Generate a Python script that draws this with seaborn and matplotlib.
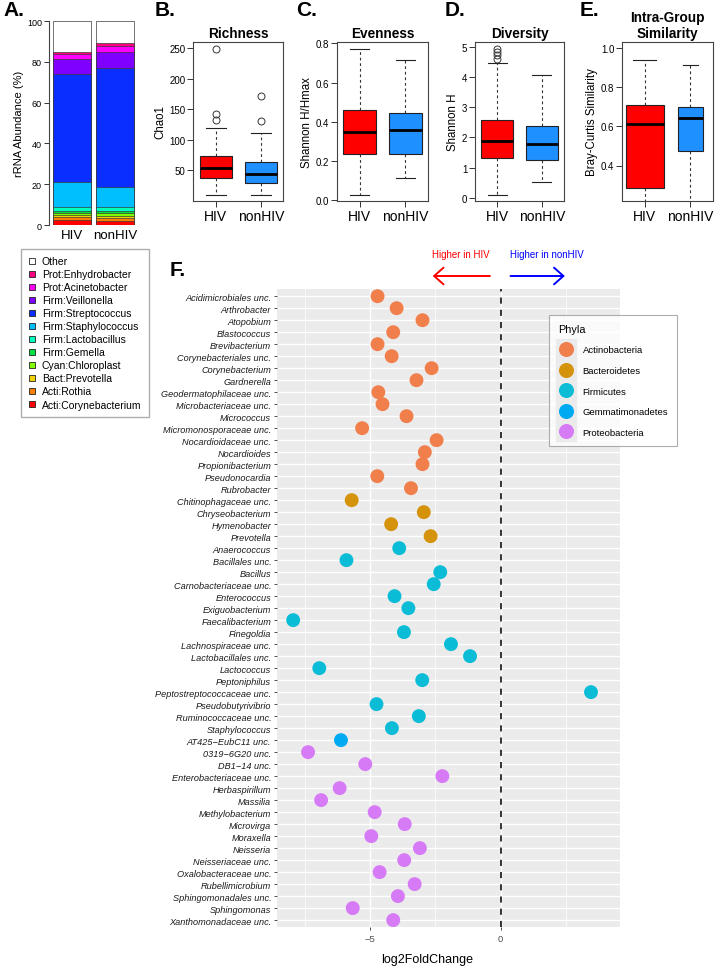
import matplotlib
matplotlib.use("Agg")
import matplotlib.pyplot as plt
from matplotlib.lines import Line2D
import numpy as np
import pandas as pd
import seaborn as sns


GROUPS = ["HIV", "nonHIV"]
HIV_COLOR = "#FF0000"
NONHIV_COLOR = "#1E90FF"

# panel A: mean relative abundance (%), bottom -> top
TAXA = ["Acti:Corynebacterium", "Acti:Rothia", "Bact:Prevotella", "Cyan:Chloroplast",
        "Firm:Gemella", "Firm:Lactobacillus", "Firm:Staphylococcus", "Firm:Streptococcus",
        "Firm:Veillonella", "Prot:Acinetobacter", "Prot:Enhydrobacter", "Other"]
TAXA_COLORS = ["#FF0000", "#FF8000", "#F2D200", "#80FF00", "#00E040", "#00FFBF",
               "#00BFFF", "#0A2EFF", "#7F00FF", "#FF00FF", "#FF0080", "#FFFFFF"]
ABUND_HIV = [2.6, 1.2, 1.1, 1.1, 1.0, 1.7, 12.5, 53.0, 7.0, 2.5, 1.3, 15.0]
ABUND_NONHIV = [2.2, 1.3, 1.0, 1.2, 1.2, 1.8, 9.8, 58.3, 8.2, 2.6, 1.4, 11.0]

# panels B-E: whislo, q1, median, q3, whishi
RICH_HIV = [10.2, 38.0, 54.4, 73.4, 118.7]
RICH_NONHIV = [10.2, 28.7, 43.5, 64.2, 111.7]
RICH_OUT_HIV = [249, 143, 132]
RICH_OUT_NONHIV = [171.6, 130.7]

EVEN_HIV = [0.026, 0.234, 0.345, 0.46, 0.773]
EVEN_NONHIV = [0.112, 0.236, 0.358, 0.442, 0.718]

DIV_HIV = [0.08, 1.32, 1.87, 2.57, 4.47]
DIV_NONHIV = [0.52, 1.24, 1.77, 2.39, 4.06]
DIV_OUT_HIV = [4.95, 4.84, 4.73, 4.62]

SIM_HIV = [0.10, 0.284, 0.612, 0.71, 0.937]
SIM_NONHIV = [0.18, 0.474, 0.642, 0.697, 0.916]

# panel F: differential abundance
GENERA = ["Acidimicrobiales unc.", "Arthrobacter", "Atopobium", "Blastococcus", "Brevibacterium",
          "Corynebacteriales unc.", "Corynebacterium", "Gardnerella", "Geodermatophilaceae unc.",
          "Microbacteriaceae unc.", "Micrococcus", "Micromonosporaceae unc.", "Nocardioidaceae unc.",
          "Nocardioides", "Propionibacterium", "Pseudonocardia", "Rubrobacter",
          "Chitinophagaceae unc.", "Chryseobacterium", "Hymenobacter", "Prevotella",
          "Anaerococcus", "Bacillales unc.", "Bacillus", "Carnobacteriaceae unc.", "Enterococcus",
          "Exiguobacterium", "Faecalibacterium", "Finegoldia", "Lachnospiraceae unc.",
          "Lactobacillales unc.", "Lactococcus", "Peptoniphilus", "Peptostreptococcaceae unc.",
          "Pseudobutyrivibrio", "Ruminococcaceae unc.", "Staphylococcus",
          "AT425\u2212EubC11 unc.",
          "0319\u22126G20 unc.", "DB1\u221214 unc.", "Enterobacteriaceae unc.", "Herbaspirillum",
          "Massilia", "Methylobacterium", "Microvirga", "Moraxella", "Neisseria",
          "Neisseriaceae unc.", "Oxalobacteraceae unc.", "Rubellimicrobium",
          "Sphingomonadales unc.", "Sphingomonas", "Xanthomonadaceae unc."]
PHYLA = (["Actinobacteria"] * 17 + ["Bacteroidetes"] * 4 + ["Firmicutes"] * 16
         + ["Gemmatimonadetes"] + ["Proteobacteria"] * 15)
LFC = [-4.71, -3.98, -2.99, -4.11, -4.71, -4.17, -2.64, -3.22, -4.68, -4.52, -3.60, -5.30,
       -2.45, -2.90, -2.99, -4.72, -3.43,
       -5.70, -2.94, -4.19, -2.68,
       -3.88, -5.90, -2.31, -2.56, -4.06, -3.53, -7.94, -3.70, -1.90, -1.17, -6.94, -3.00,
       3.46, -4.75, -3.13, -4.16,
       -6.11,
       -7.37, -5.18, -2.23, -6.16, -6.87, -4.82, -3.67, -4.95, -3.09, -3.69, -4.63, -3.29,
       -3.93, -5.66, -4.11]
PHYLA_NAMES = ["Actinobacteria", "Bacteroidetes", "Firmicutes", "Gemmatimonadetes", "Proteobacteria"]
PHYLA_COLORS = ["#F07F4B", "#D5920B", "#0BBCD6", "#00AAF2", "#D67AF6"]

W, H = 720, 970


def add_axes(fig, x0, y0, x1, y1):
    return fig.add_axes([x0 / W, 1 - y1 / H, (x1 - x0) / W, (y1 - y0) / H])


def box_panel(ax, s_hiv, s_non, out_hiv, out_non, ylim, yticks, ylabel, title, widths=(0.72, 0.72)):
    stats = []
    for s, o, lab in [(s_hiv, out_hiv, "HIV"), (s_non, out_non, "nonHIV")]:
        stats.append(dict(whislo=s[0], q1=s[1], med=s[2], q3=s[3], whishi=s[4], fliers=o, label=lab))
    bp = ax.bxp(stats, positions=[1, 2], widths=list(widths), patch_artist=True,
                capwidths=[w * 0.6 for w in widths],
                boxprops=dict(edgecolor="#222222", linewidth=0.8),
                whiskerprops=dict(linestyle=(0, (2.5, 2.5)), linewidth=0.8, color="#333333"),
                capprops=dict(linewidth=0.8, color="#222222"),
                medianprops=dict(color="black", linewidth=2.0),
                flierprops=dict(marker="o", markerfacecolor="none", markeredgecolor="#333333",
                                markersize=5, markeredgewidth=0.7))
    for patch, c in zip(bp["boxes"], [HIV_COLOR, NONHIV_COLOR]):
        patch.set_facecolor(c)
    ax.set_xlim(0.5, 2.5)
    ax.set_ylim(*ylim)
    ax.set_yticks(yticks)
    ax.tick_params(axis="y", labelsize=7, length=4, width=0.7, pad=1.5, colors="#333333")
    ax.tick_params(axis="x", labelsize=10, length=4, width=0.7, pad=2, colors="#333333")
    for lbl in ax.get_xticklabels() + ax.get_yticklabels():
        lbl.set_color("black")
    ax.set_ylabel(ylabel, fontsize=8.3, labelpad=2)
    ax.set_title(title, fontsize=9.8, fontweight="bold", pad=4)
    for sp in ax.spines.values():
        sp.set_color("#444444")
        sp.set_linewidth(0.8)


def main():
    plt.rcParams["font.family"] = ["Liberation Sans", "DejaVu Sans"]
    plt.rcParams["axes.unicode_minus"] = True
    fig = plt.figure(figsize=(7.2, 9.7), dpi=100)

    # ---- A: stacked bars
    axa = add_axes(fig, 49, 22, 137, 226)
    cum_hiv = np.cumsum(ABUND_HIV)
    cum_non = np.cumsum(ABUND_NONHIV)
    for i in reversed(range(len(TAXA))):
        sns.barplot(x=GROUPS, y=[cum_hiv[i], cum_non[i]], color=TAXA_COLORS[i], saturation=1,
                    width=0.868, edgecolor="#3A3A3A", linewidth=0.5, ax=axa)
    axa.set_xlim(-0.533, 1.515)
    axa.set_ylim(0, 100)
    axa.set_yticks([0, 20, 40, 60, 80, 100])
    for sp in ["top", "right", "bottom"]:
        axa.spines[sp].set_visible(False)
    axa.spines["left"].set_color("#444444")
    axa.spines["left"].set_linewidth(0.8)
    axa.tick_params(axis="y", labelsize=6.5, length=3.5, width=0.7, pad=1.5, colors="#333333")
    axa.tick_params(axis="x", labelsize=9.5, length=0, pad=3)
    for lbl in axa.get_yticklabels():
        lbl.set_color("black")
    axa.set_ylabel("rRNA Abundance (%)", fontsize=8, labelpad=2)
    axa.set_xlabel("")

    handles = [Line2D([], [], marker="s", ls="", markersize=4.2, markerfacecolor=c,
                      markeredgecolor="#222222", markeredgewidth=0.6)
               for c in TAXA_COLORS[::-1]]
    fig.legend(handles, TAXA[::-1], loc="upper left", bbox_to_anchor=(21 / W, 1 - 250 / H),
               frameon=True, fancybox=False, edgecolor="#999999", fontsize=7.5,
               labelspacing=0.29, handlelength=0.8, handletextpad=0.5, borderpad=0.7,
               borderaxespad=0)

    # ---- B-E: boxplots
    axb = add_axes(fig, 193.3, 43.3, 283.3, 201.7)
    box_panel(axb, RICH_HIV, RICH_NONHIV, RICH_OUT_HIV, RICH_OUT_NONHIV, (0.4, 259.6),
              [50, 100, 150, 200, 250], "Chao1", "Richness")
    axc = add_axes(fig, 336.7, 43.3, 428.3, 201.7)
    box_panel(axc, EVEN_HIV, EVEN_NONHIV, [], [], (-0.004, 0.806),
              [0.0, 0.2, 0.4, 0.6, 0.8], "Shannon H/Hmax", "Evenness")
    axc.set_yticklabels(["0.0", "0.2", "0.4", "0.6", "0.8"])
    axd = add_axes(fig, 475, 43.3, 564, 201.7)
    box_panel(axd, DIV_HIV, DIV_NONHIV, DIV_OUT_HIV, [], (-0.1, 5.16),
              [0, 1, 2, 3, 4, 5], "Shannon H", "Diversity")
    axe = add_axes(fig, 622, 43.3, 713, 201.7)
    box_panel(axe, SIM_HIV, SIM_NONHIV, [], [], (0.22, 1.03),
              [0.4, 0.6, 0.8, 1.0], "Bray-Curtis Similarity", "Intra-Group\nSimilarity",
              widths=(0.84, 0.56))
    axe.set_yticklabels(["0.4", "0.6", "0.8", "1.0"])

    for txt, x in [("A.", 3), ("B.", 155), ("C.", 296), ("D.", 445), ("E.", 580), ("F.", 170)]:
        y = 261 if txt == "F." else 1
        fig.text(x / W, 1 - y / H, txt, fontsize=15, fontweight="bold", va="top", ha="left")

    # ---- F: log2 fold change dot plot
    axf = add_axes(fig, 276.7, 290, 620, 928.3)
    axf.set_facecolor("#EBEBEB")
    df = pd.DataFrame({"genus": GENERA, "phylum": PHYLA, "lfc": LFC})
    sns.scatterplot(data=df, x="lfc", y="genus", hue="phylum", hue_order=PHYLA_NAMES,
                    palette=PHYLA_COLORS, s=100, linewidth=0, alpha=1, ax=axf, legend=False,
                    zorder=3)
    axf.set_xlim(-8.57, 4.57)
    axf.set_ylim(len(GENERA) - 0.4, -0.6)
    axf.set_xticks([-5, 0])
    axf.set_xticks([-7.5, -2.5, 2.5], minor=True)
    axf.set_axisbelow(True)
    axf.grid(which="major", color="white", linewidth=1.0)
    axf.grid(which="minor", axis="x", color="white", linewidth=0.5)
    axf.axvline(0, color="black", linestyle=(0, (4, 4)), linewidth=1.1, zorder=2)
    for sp in axf.spines.values():
        sp.set_visible(False)
    axf.tick_params(axis="y", labelsize=6.6, length=2.5, width=0.6, color="#333333",
                    pad=1.5, labelcolor="#1A1A1A")
    axf.tick_params(axis="x", which="major", labelsize=6.8, length=2.5, width=0.6,
                    color="#333333", pad=2, labelcolor="#4D4D4D")
    axf.tick_params(axis="x", which="minor", length=0)
    for lbl in axf.get_yticklabels():
        lbl.set_fontstyle("italic")
    axf.set_ylabel("")
    axf.set_xlabel("log2FoldChange", fontsize=9)
    axf.xaxis.set_label_coords(0.438, -0.04)

    arrow_y = 1 - 277 / H
    axf.annotate("", xy=(-2.6, arrow_y), xytext=(-0.41, arrow_y),
                 xycoords=("data", "figure fraction"), textcoords=("data", "figure fraction"),
                 arrowprops=dict(arrowstyle="->,head_length=0.45,head_width=0.4", color="red",
                                 lw=1.4, mutation_scale=15, shrinkA=0, shrinkB=0),
                 annotation_clip=False)
    axf.annotate("", xy=(2.46, arrow_y), xytext=(0.38, arrow_y),
                 xycoords=("data", "figure fraction"), textcoords=("data", "figure fraction"),
                 arrowprops=dict(arrowstyle="->,head_length=0.45,head_width=0.4", color="blue",
                                 lw=1.4, mutation_scale=15, shrinkA=0, shrinkB=0),
                 annotation_clip=False)
    text_y = 1 - 255 / H
    axf.annotate("Higher in HIV", xy=(-1.52, text_y), xycoords=("data", "figure fraction"),
                 ha="center", va="center", color="red", fontsize=7, annotation_clip=False)
    axf.annotate("Higher in nonHIV", xy=(1.76, text_y), xycoords=("data", "figure fraction"),
                 ha="center", va="center", color="blue", fontsize=7, annotation_clip=False)

    phy_handles = [(Line2D([], [], marker="s", ls="", markersize=14.2, color="#EBEBEB"),
                    Line2D([], [], marker="o", ls="", markersize=9.8, color=c))
                   for c in PHYLA_COLORS]
    leg = fig.legend(phy_handles, PHYLA_NAMES, loc="upper left",
                     bbox_to_anchor=(549 / W, 1 - 316 / H), title="Phyla", alignment="left",
                     frameon=True, fancybox=False, edgecolor="#999999", fontsize=6.8,
                     title_fontsize=7.8, labelspacing=1.22, handlelength=1.8,
                     handletextpad=0.8, borderpad=0.95, borderaxespad=0)
    leg.get_frame().set_linewidth(0.8)

    fig.savefig("out.png", dpi=100)


if __name__ == "__main__":
    main()
